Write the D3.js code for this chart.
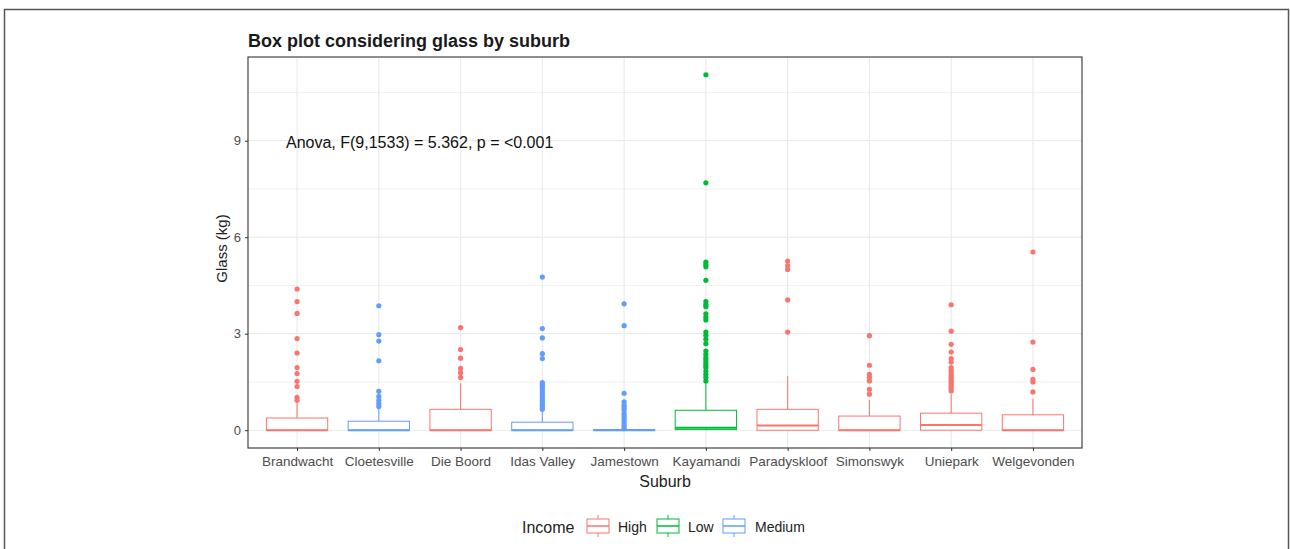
<!DOCTYPE html>
<html><head><meta charset="utf-8">
<script src="https://cdn.jsdelivr.net/npm/d3@7"></script>
<style>body{margin:0;background:#fff;font-family:"Liberation Sans",Arial,sans-serif;}</style>
</head><body><svg id="c" width="1290" height="549"></svg>
<script>
const suburbs = ["Brandwacht","Cloetesville","Die Boord","Idas Valley","Jamestown","Kayamandi","Paradyskloof","Simonswyk","Uniepark","Welgevonden"];
const income = ["High","Medium","High","Medium","Medium","Low","High","High","High","High"];
const q1 = [0,0,0,0,0,0.02,0,0,0,0];
const median = [0,0,0,0,0,0.08,0.15,0,0.16,0];
const q3 = [0.38,0.28,0.65,0.25,0.02,0.62,0.65,0.44,0.53,0.48];
const whiskerLow = [0,0,0,0,0,0,0,0,0,0];
const whiskerHigh = [0.88,0.7,1.46,0.59,0.02,1.48,1.69,0.94,1.12,0.98];
const outliers = [
  [4.39,4.0,3.63,2.85,2.40,1.95,1.76,1.52,1.36,1.02,0.93],
  [3.87,2.97,2.77,2.16,1.21,1.05,0.93,0.83,0.74],
  [3.19,2.51,2.24,1.92,1.79,1.64],
  [4.76,3.16,2.87,2.38,2.23,1.48,1.42,1.36,1.30,1.22,1.15,1.08,1.0,0.93,0.85,0.78,0.70,0.65],
  [3.93,3.25,1.15,0.88,0.78,0.70,0.63,0.52,0.44,0.37,0.29,0.20,0.13,0.06],
  [11.05,7.69,5.23,5.16,5.08,4.66,4.0,3.91,3.84,3.62,3.52,3.43,3.05,2.95,2.83,2.69,2.46,2.36,2.26,2.18,2.1,2.02,1.95,1.84,1.74,1.64,1.53],
  [5.26,5.12,5.0,4.05,3.05],
  [2.94,2.02,1.74,1.64,1.53,1.27,1.12],
  [3.90,3.08,2.67,2.43,2.23,2.12,1.95,1.86,1.78,1.70,1.64,1.58,1.52,1.46,1.40,1.34,1.28,1.22],
  [5.54,2.74,1.89,1.58,1.50,1.19]
];
const yTicks = [0,3,6,9];
const yMinor = [1.5,4.5,7.5,10.5];
const incomeLevels = ["High","Low","Medium"];
const incomeColors = ["#F8766D","#00BA38","#619CFF"];

const FF = "Liberation Sans, Arial, sans-serif";
const svg = d3.select("#c");
const W = 1290, H = 549;
svg.append("rect").attr("x",0).attr("y",0).attr("width",W).attr("height",H).attr("fill","#fff");
svg.append("rect").attr("x",4.5).attr("y",9.5).attr("width",1284).attr("height",560)
  .attr("fill","none").attr("stroke","#555").attr("stroke-width",1.5);

const P = {l:248, r:1082, t:57, b:448};
const allVals = outliers.flat().concat(whiskerHigh);
const yMax = d3.max(allVals), yMin = 0;
const pad = (yMax - yMin) * 0.05;
const y = d3.scaleLinear().domain([yMin - pad, yMax + pad]).range([P.b, P.t]);
const step = (P.r - P.l) / (suburbs.length - 1 + 1.2);
const xc = d => P.l + step*(0.6 + suburbs.indexOf(d));
const boxW = step*0.75;
const color = d3.scaleOrdinal().domain(incomeLevels).range(incomeColors);

const g = svg.append("g");
g.selectAll(".ymin").data(yMinor).enter().append("line")
  .attr("x1",P.l).attr("x2",P.r).attr("y1",d=>y(d)).attr("y2",d=>y(d))
  .attr("stroke","#F2F2F2").attr("stroke-width",1);
g.selectAll(".ymaj").data(yTicks).enter().append("line")
  .attr("x1",P.l).attr("x2",P.r).attr("y1",d=>y(d)).attr("y2",d=>y(d))
  .attr("stroke","#EBEBEB").attr("stroke-width",1.2);
g.selectAll(".xmaj").data(suburbs).enter().append("line")
  .attr("x1",d=>xc(d)).attr("x2",d=>xc(d)).attr("y1",P.t).attr("y2",P.b)
  .attr("stroke","#EBEBEB").attr("stroke-width",1.2);

suburbs.forEach((s,i)=>{
  const cx = xc(s), col = color(income[i]);
  const bg = g.append("g");
  bg.append("line").attr("x1",cx).attr("x2",cx).attr("y1",y(q3[i])).attr("y2",y(whiskerHigh[i])).attr("stroke",col).attr("stroke-width",1);
  bg.append("line").attr("x1",cx).attr("x2",cx).attr("y1",y(q1[i])).attr("y2",y(whiskerLow[i])).attr("stroke",col).attr("stroke-width",1);
  bg.append("rect").attr("x",cx-boxW/2).attr("width",boxW).attr("y",y(q3[i])).attr("height",Math.max(0.5,y(q1[i])-y(q3[i])))
    .attr("fill","#fff").attr("stroke",col).attr("stroke-width",1);
  bg.append("line").attr("x1",cx-boxW/2).attr("x2",cx+boxW/2).attr("y1",y(median[i])).attr("y2",y(median[i])).attr("stroke",col).attr("stroke-width",2);
  bg.selectAll("circle").data(outliers[i]).enter().append("circle")
    .attr("cx",cx).attr("cy",d=>y(d)).attr("r",2.6).attr("fill",col);
});

svg.append("rect").attr("x",P.l).attr("y",P.t).attr("width",P.r-P.l).attr("height",P.b-P.t)
  .attr("fill","none").attr("stroke","#333").attr("stroke-width",1.1);

const ya = svg.append("g").attr("transform",`translate(${P.l},0)`)
  .call(d3.axisLeft(y).tickValues(yTicks).tickSize(3).tickPadding(4).tickFormat(d3.format("d")));
ya.select(".domain").remove();
ya.selectAll("line").attr("stroke","#333");
ya.selectAll("text").attr("fill","#4D4D4D").style("font-size","13px").style("font-family",FF);

const xAxisScale = d3.scaleOrdinal().domain(suburbs).range(suburbs.map(xc));
const xa = svg.append("g").attr("transform",`translate(0,${P.b})`)
  .call(d3.axisBottom(xAxisScale).tickSize(3).tickPadding(5));
xa.select(".domain").remove();
xa.selectAll("line").attr("stroke","#333");
xa.selectAll("text").attr("fill","#4D4D4D").style("font-size","13.5px").style("font-family",FF);

svg.append("text").attr("x",P.l).attr("y",47).text("Box plot considering glass by suburb")
  .style("font-size","18px").style("font-weight","bold").style("font-family",FF).attr("fill","#1a1a1a");
svg.append("text").attr("transform",`translate(227,${(P.t+P.b)/2 - 4}) rotate(-90)`).attr("text-anchor","middle")
  .text("Glass (kg)").style("font-size","15px").style("font-family",FF).attr("fill","#222");
svg.append("text").attr("x",(P.l+P.r)/2).attr("y",487).attr("text-anchor","middle")
  .text("Suburb").style("font-size","16px").style("font-family",FF).attr("fill","#222");
svg.append("text").attr("x",286).attr("y",148).text("Anova, F(9,1533) = 5.362, p = <0.001")
  .style("font-size","16px").style("font-family",FF).attr("fill","#111");

const lg = svg.append("g");
lg.append("text").attr("x",522).attr("y",533).text("Income").style("font-size","16px").style("font-family",FF).attr("fill","#222");
const keyX = [587,657,723], labX = [618,688,755];
incomeLevels.forEach((lv,i)=>{
  const col = incomeColors[i], kx = keyX[i];
  const k = lg.append("g");
  k.append("line").attr("x1",kx+11).attr("x2",kx+11).attr("y1",515).attr("y2",519).attr("stroke",col);
  k.append("line").attr("x1",kx+11).attr("x2",kx+11).attr("y1",533).attr("y2",537).attr("stroke",col);
  k.append("rect").attr("x",kx).attr("y",519).attr("width",22).attr("height",14).attr("fill","#fff").attr("stroke",col);
  k.append("line").attr("x1",kx).attr("x2",kx+22).attr("y1",526).attr("y2",526).attr("stroke",col).attr("stroke-width",1.5);
  lg.append("text").attr("x",labX[i]).attr("y",532).text(lv).style("font-size","14px").style("font-family",FF).attr("fill","#222");
});
</script></body></html>
